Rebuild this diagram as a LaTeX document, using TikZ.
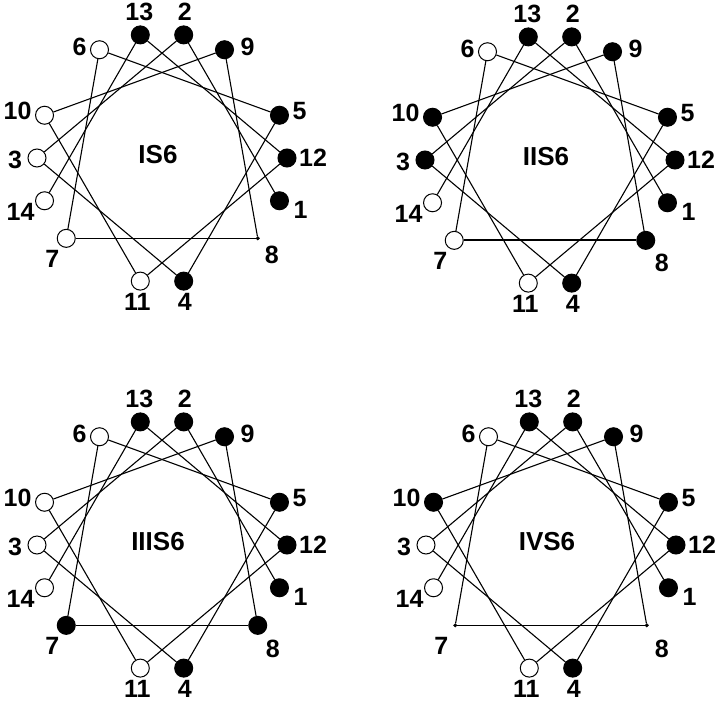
\documentclass[tikz,border=0pt]{standalone}
\usepackage{fontspec}
\setmainfont{Liberation Sans}
\pgfdeclarelayer{bg}
\pgfsetlayers{bg,main}
\tikzset{
  resb/.style={circle, draw, fill=black, minimum size=18pt, inner sep=0pt, line width=1pt},
  resw/.style={circle, draw, fill=white, minimum size=18pt, inner sep=0pt, line width=1pt},
  resd/.style={circle, draw, fill=black, minimum size=3.5pt, inner sep=0pt, line width=0.5pt},
  reslab/.style={font=\fontsize{25}{25}\selectfont\bfseries, inner sep=0pt},
  wheeltitle/.style={font=\fontsize{26}{26}\selectfont\bfseries, inner sep=0pt},
  link/.style={line width=1.1pt},
}
% #1 x, #2 y (from top), #3 prefix, #4 title, #5 types, #6 dx/dy of label 8
\newcommand\helixwheel[7]{%
  \begin{scope}[shift={(#1pt,-#2pt)}]
    \node[wheeltitle] (#3t) at (-4pt,3pt) {#4};
    \foreach \n/\t in {#5} {
      \pgfmathsetmacro\ang{-20+100*(\n-1)}
      \node[res\t] (#3\n) at (\ang:125pt) {};
    }
    \begin{pgfonlayer}{bg}
      \foreach \n in {1,...,13} {
        \pgfmathtruncatemacro\m{\n+1}
        \draw[link] (#3\n) -- (#3\m);
      }
    \end{pgfonlayer}
    \foreach \n/\dx/\dy in {1/21/-9, 2/1/23, 3/-22/-2, 4/1/-21, 5/20/4, 6/-20/3,
        7/-14/-21, 8/#6/#7, 9/23/3, 10/-27/4, 11/-3/-21, 12/26/0, 13/-1/23, 14/-24/-11} {
      \node[reslab] (#3l\n) at ([shift={(\dx pt,\dy pt)}]#3\n.center) {\n};
    }
  \end{scope}
}
\begin{document}
\begin{tikzpicture}
  \useasboundingbox (0,-707pt) rectangle (720pt,0);
  \helixwheel{162}{158}{a}{IS6}{1/b,2/b,3/w,4/b,5/b,6/w,7/w,8/d,9/b,10/w,11/w,12/b,13/b,14/w}{14}{-17}
  \helixwheel{550}{160}{b}{IIS6}{1/b,2/b,3/b,4/b,5/b,6/w,7/w,8/b,9/b,10/b,11/w,12/b,13/b,14/w}{16}{-23}
  \begin{pgfonlayer}{bg}
    \draw[line width=2.2pt] (b7) -- (b8);
  \end{pgfonlayer}
  \helixwheel{162}{545}{c}{IIIS6}{1/b,2/b,3/w,4/b,5/b,6/w,7/b,8/b,9/b,10/w,11/w,12/b,13/b,14/w}{15}{-24}
  \helixwheel{551}{545}{d}{IVS6}{1/b,2/b,3/w,4/b,5/b,6/w,7/d,8/d,9/b,10/b,11/w,12/b,13/b,14/w}{15}{-24}
\end{tikzpicture}
\end{document}
